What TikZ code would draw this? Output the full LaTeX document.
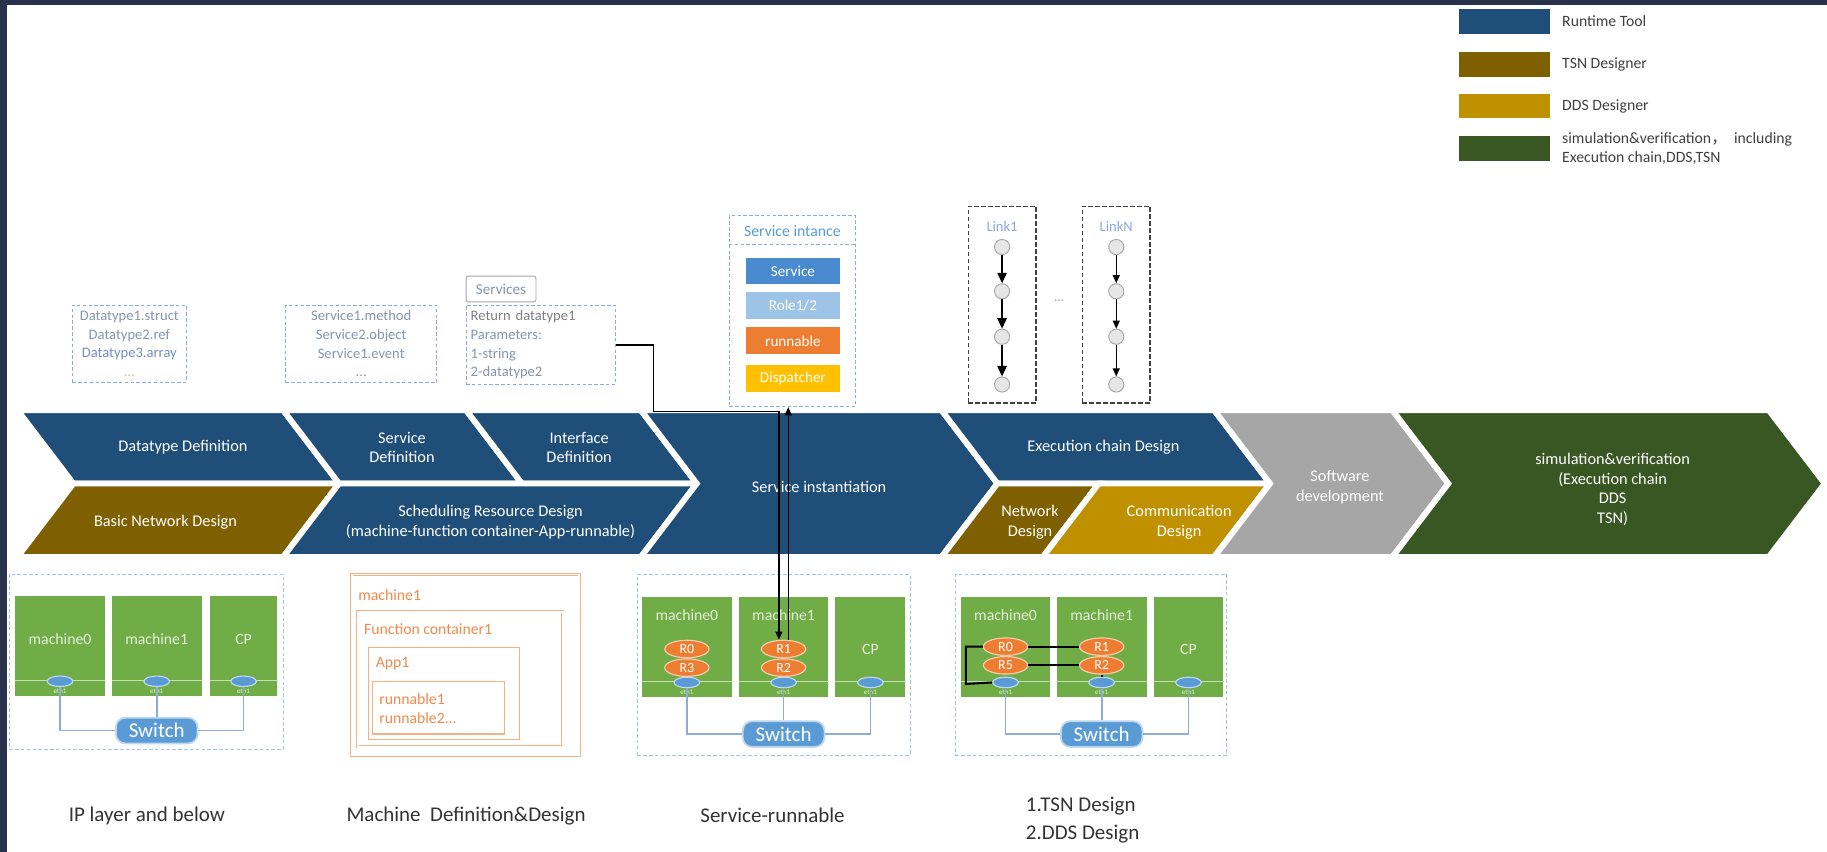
\documentclass[tikz,border=0pt]{standalone}
\usepackage{fontspec}
\setmainfont{Carlito}
\newfontfamily\cjkfont{Noto Sans CJK SC}
\usetikzlibrary{arrows.meta,shapes.geometric}

\definecolor{rtblue}{HTML}{1F4E79}
\definecolor{tsnbrown}{HTML}{7F6000}
\definecolor{ddsgold}{HTML}{BF9000}
\definecolor{simgreen}{HTML}{385723}
\definecolor{swgray}{HTML}{A6A6A6}
\definecolor{framec}{HTML}{28324A}
\definecolor{dashblue}{HTML}{8EA9DB}
\definecolor{txtgray}{HTML}{8497B0}
\definecolor{dtblue}{HTML}{6F8FC7}
\definecolor{mgreen}{HTML}{70AD47}
\definecolor{mtxt}{HTML}{E2F0D9}
\definecolor{stripg}{HTML}{C5E0B4}
\definecolor{portblue}{HTML}{5B9BD5}
\definecolor{portedge}{HTML}{BDD7EE}
\definecolor{wirec}{HTML}{8FAADC}
\definecolor{rorange}{HTML}{ED7D31}
\definecolor{redge}{HTML}{F8CBAD}
\definecolor{lorange}{HTML}{F4B183}
\definecolor{otxt}{HTML}{F08A4B}
\definecolor{svcblue}{HTML}{4A8BD0}
\definecolor{roleblue}{HTML}{9DC3E6}
\definecolor{dispyellow}{HTML}{FFC000}
\definecolor{lgray}{HTML}{A6A6A6}
\definecolor{cgray}{HTML}{E7E6E6}
\definecolor{dgray}{HTML}{404040}
\definecolor{dgraytwo}{HTML}{333333}

\begin{document}
\begin{tikzpicture}[x=1pt,y=-1pt,
  cell/.style={draw=white,line width=5pt,line join=miter},
  celltext/.style={text=white,font=\fontsize{14}{17}\selectfont,align=center},
  tbox/.style={draw=dashblue,dash pattern=on 3pt off 2pt,line width=0.8pt,inner sep=3pt},
  ttext/.style={font=\fontsize{12.5}{16}\selectfont,text=txtgray,align=center},
  tag/.style={draw=lgray,line width=0.8pt,rounded corners=2pt,minimum width=60pt,minimum height=22pt,inner sep=0pt,font=\fontsize{13}{15}\selectfont,text=txtgray},
  blk/.style={minimum width=81pt,minimum height=23pt,inner sep=0pt,text=white,font=\fontsize{13}{15}\selectfont},
  lbox/.style={draw=dgray,dash pattern=on 4pt off 2pt,line width=1.2pt,minimum width=58pt,minimum height=169pt,inner sep=0pt},
  lnode/.style={circle,fill=cgray,draw=lgray,line width=0.8pt,minimum size=13pt,inner sep=0pt},
  larrow/.style={-{Triangle[length=9pt,width=8pt]},line width=1.2pt},
  sarrow/.style={-{Triangle[length=7pt,width=6pt]},line width=1.2pt},
  legbox/.style={minimum width=78pt,minimum height=21pt,inner sep=0pt},
  legtext/.style={text=dgray,font=\fontsize{13.5}{17}\selectfont,anchor=west,align=left},
  bbox/.style={draw=roleblue,dash pattern=on 3pt off 2pt,line width=0.8pt,inner sep=0pt},
  mach/.style={fill=mgreen,minimum height=86pt,inner sep=0pt},
  mtext/.style={text=mtxt,font=\fontsize{13.5}{15}\selectfont},
  strip/.style={draw=stripg,line width=1pt},
  port/.style={ellipse,fill=portblue,draw=portedge,line width=1pt,minimum width=22pt,minimum height=9pt,inner sep=0pt},
  eth/.style={text=mtxt,font=\fontsize{6}{7}\selectfont},
  switch/.style={rounded corners=8pt,fill=portblue,draw=portedge,line width=1.5pt,minimum width=70pt,minimum height=22pt,inner sep=0pt,text=white,font=\fontsize{18}{20}\selectfont},
  wire/.style={draw=wirec,line width=1.5pt},
  rnode/.style={ellipse,fill=rorange,draw=redge,line width=1pt,minimum width=38pt,minimum height=15pt,inner sep=0pt,text=white,font=\fontsize{12}{13}\selectfont},
  bline/.style={draw=black,line width=1.8pt},
  obox/.style={draw=lorange,line width=1pt,inner sep=0pt},
  odbl/.style={draw=lorange,line width=0.6pt,double=white,double distance=1.4pt,inner sep=0pt},
  otext/.style={text=otxt,font=\fontsize{13.5}{16}\selectfont,anchor=west,align=left},
  blabel/.style={text=dgraytwo,font=\fontsize{18}{24}\selectfont}
]
\useasboundingbox (0,0) rectangle (1568,731);
% white page with a dark strip along the top and left edges
\fill[white] (0,0) rectangle (1568,731);
\fill[framec] (0,0) rectangle (1568,4);
\fill[framec] (0,0) rectangle (6,731);

% ---------------- legend ----------------
\node[legbox,fill=rtblue] (lg1) at (1291,18.5) {};
\node[legtext] (lt1) at ([xshift=7pt]lg1.east) {Runtime Tool};
\node[legbox,fill=tsnbrown] (lg2) at (1291,55.5) {};
\node[legtext] (lt2) at ([xshift=7pt]lg2.east) {TSN Designer};
\node[legbox,fill=ddsgold] (lg3) at (1291,91) {};
\node[legtext] (lt3) at ([xshift=7pt]lg3.east) {DDS Designer};
\node[legbox,fill=simgreen] (lg4) at (1291,127.5) {};
\node[legtext] (lt4) at ([xshift=7pt]lg4.east) {simulation\&verification{\cjkfont ，}\ \ including\\Execution chain,DDS,TSN};

% ---------------- process band ----------------
\path[cell,fill=rtblue]   (15,352)--(243,352)--(291,415)--(63,415)--cycle;
\path[cell,fill=tsnbrown] (63,415)--(291,415)--(243,478)--(15,478)--cycle;
\path[cell,fill=rtblue]   (243,352)--(400,352)--(448,415)--(291,415)--cycle;
\path[cell,fill=rtblue]   (400,352)--(550,352)--(598,415)--(448,415)--cycle;
\path[cell,fill=rtblue]   (291,415)--(598,415)--(550,478)--(243,478)--cycle;
\path[cell,fill=rtblue]   (550,352)--(808,352)--(856,415)--(808,478)--(550,478)--(598,415)--cycle;
\path[cell,fill=rtblue]   (808,352)--(1042,352)--(1090,415)--(856,415)--cycle;
\path[cell,fill=tsnbrown] (856,415)--(943,415)--(895,478)--(808,478)--cycle;
\path[cell,fill=ddsgold]  (943,415)--(1090,415)--(1042,478)--(895,478)--cycle;
\path[cell,fill=swgray]   (1042,352)--(1195,352)--(1243,415)--(1195,478)--(1042,478)--(1090,415)--cycle;
\path[cell,fill=simgreen] (1195,352)--(1518,352)--(1566,415)--(1518,478)--(1195,478)--(1243,415)--cycle;

\node[celltext] (cDT) at (157,384) {Datatype Definition};
\node[celltext] (cSD) at (345,384) {Service\\Definition};
\node[celltext] (cID) at (497,384) {Interface\\Definition};
\node[celltext] (cSI) at (703,418) {Service instantiation};
\node[celltext] (cEC) at (947,384) {Execution chain Design};
\node[celltext] (cSW) at (1150,418) {Software\\development};
\node[celltext] (cSV) at (1384,420) {simulation\&verification\\(Execution chain\\DDS\\TSN)};
\node[celltext] (cBN) at (142,448) {Basic Network Design};
\node[celltext] (cSR) at (421,448) {Scheduling Resource Design\\(machine-function container-App-runnable)};
\node[celltext] (cND) at (884,448) {Network\\Design};
\node[celltext] (cCD) at (1012,448) {Communication\\Design};

% ---------------- definition boxes above the band ----------------
\node[tbox,ttext,minimum width=98pt,minimum height=66pt] (dtbox) at (111,295)
  {Datatype1.struct\\Datatype2.ref\\\textcolor{dtblue}{Datatype3.array}\\\textcolor{lorange}{...}};
\node[tbox,ttext,minimum width=130pt,minimum height=66pt] (svbox) at (310,295)
  {Service1.method\\Service2.object\\Service1.event\\...};
\node[tag] (svtag) at (430,248) {Services};
\node[tbox,ttext,align=left,text width=120pt,minimum width=128pt,minimum height=68pt] (ifc) at (464,296)
  {\textcolor{gray}{Return datatype1}\\Parameters:\\1-string\\2-datatype2};

% service instance
\node[tbox,minimum width=108pt,minimum height=164pt,inner sep=0pt] (si) at (680,267) {};
\node[text=portblue,font=\fontsize{13.5}{15}\selectfont] (sihead) at (680,198) {Service intance};
\coordinate (sepy) at (0,210);
\draw[draw=dashblue,dash pattern=on 3pt off 2pt,line width=0.8pt] (si.west |- sepy) -- (si.east |- sepy);
\node[blk,fill=svcblue] (svc) at (680.5,232.5) {Service};
\node[blk,fill=roleblue] (role) at (680.5,262) {Role1/2};
\node[blk,fill=rorange] (run) at (680.5,292.5) {runnable};
\node[blk,fill=dispyellow] (disp) at (680.5,324.5) {Dispatcher};

% execution chains
\node[lbox] (lk1) at (860,261.5) {};
\node[text=dashblue,font=\fontsize{12.5}{14}\selectfont] (lk1h) at (860,194) {Link1};
\node[lnode] (a1) at (860,212) {};
\node[lnode] (a2) at (860,250) {};
\node[lnode] (a3) at (860,289) {};
\node[lnode] (a4) at (860,330) {};
\draw[larrow] (a1) -- (a2);
\draw[larrow] (a2) -- (a3);
\draw[larrow] (a3) -- (a4);
\node[lbox] (lkn) at (958,261.5) {};
\node[text=dashblue,font=\fontsize{12.5}{14}\selectfont] (lknh) at (958,194) {LinkN};
\node[lnode] (b1) at (958,212) {};
\node[lnode] (b2) at (958,250) {};
\node[lnode] (b3) at (958,289) {};
\node[lnode] (b4) at (958,330) {};
\draw[sarrow] (b1) -- (b2);
\draw[sarrow] (b2) -- (b3);
\draw[sarrow] (b3) -- (b4);
\node[text=lgray,font=\fontsize{12}{14}\selectfont] (ldots) at (909,258) {...};

% ---------------- box A: IP layer ----------------
\node[bbox,minimum width=235pt,minimum height=150pt] (boxA) at (125.5,568) {};
\node[mach,minimum width=77pt] (a0m) at (51.5,554.5) {};
\node[mach,minimum width=77pt] (a1m) at (134.5,554.5) {};
\node[mach,minimum width=58pt] (a2m) at (209,554.5) {};
\foreach \m/\t in {a0m/machine0,a1m/machine1,a2m/CP}{
  \node[mtext] (\m t) at ([yshift=6pt]\m.center) {\t};
  \draw[strip] ([yshift=14pt]\m.south west) -- ([yshift=14pt]\m.south east);
  \node[eth] (\m e) at ([yshift=5pt]\m.south) {eth1};
  \node[port] (\m p) at ([yshift=13pt]\m.south) {};
}
\node[switch] (swA) at (134.5,627) {Switch};
\draw[wire] (a0mp.south) |- (swA.west);
\draw[wire] (a1mp.south) -- (swA.north);
\draw[wire] (a2mp.south) |- (swA.east);

% ---------------- box B: machine nesting ----------------
\node[odbl,minimum width=195pt,minimum height=155pt] (mB) at (399.5,570.5) {};
\node[otext] (mBt) at (304,511) {machine1};
\node[odbl,minimum width=176pt,minimum height=116pt] (fcB) at (395,583) {};
\node[otext] (fcBt) at (309,540) {Function container1};
\node[obox,minimum width=130pt,minimum height=79pt] (appB) at (381,595.5) {};
\node[otext] (appBt) at (319,570) {App1};
\node[obox,minimum width=113pt,minimum height=45pt] (rnB) at (376.5,607.5) {};
\node[otext] (rnBt) at (322,608) {runnable1\\runnable2...};

% ---------------- box C: service-runnable ----------------
\node[bbox,minimum width=234pt,minimum height=155pt] (boxC) at (664,570.5) {};
\node[mach,minimum width=77pt] (c0m) at (589.5,555.5) {};
\node[mach,minimum width=77pt] (c1m) at (672.5,555.5) {};
\node[mach,minimum width=60pt] (c2m) at (747,555.5) {};
\node[mtext] (c0mt) at (589.5,528) {machine0};
\node[mtext] (c1mt) at (672.5,528) {machine1};
\node[mtext] (c2mt) at (747,557) {CP};
\foreach \m in {c0m,c1m,c2m}{
  \draw[strip] ([yshift=14pt]\m.south west) -- ([yshift=14pt]\m.south east);
  \node[eth] (\m e) at ([yshift=5pt]\m.south) {eth1};
  \node[port] (\m p) at ([yshift=13pt]\m.south) {};
}
\node[rnode] (cR0) at (589.5,557) {R0};
\node[rnode] (cR3) at (589.5,573) {R3};
\node[rnode] (cR1) at (672.5,557) {R1};
\node[rnode] (cR2) at (672.5,573) {R2};
\node[switch] (swC) at (672.5,630) {Switch};
\draw[wire] (c0mp.south) |- (swC.west);
\draw[wire] (c1mp.south) -- (swC.north);
\draw[wire] (c2mp.south) |- (swC.east);

% interface to runnable, runnable to service instance
\coordinate (bend1) at (561,353);
\draw[sarrow] (ifc.east) -| (bend1) -| ([xshift=-4pt]cR1.north);
\draw[sarrow] ([xshift=4pt]cR1.north) -- ([xshift=4pt]cR1.north |- si.south);

% ---------------- box D: TSN / DDS ----------------
\node[bbox,minimum width=233pt,minimum height=155pt] (boxD) at (936.5,570.5) {};
\node[mach,minimum width=76pt] (d0m) at (863,555.5) {};
\node[mach,minimum width=77pt] (d1m) at (945.5,555.5) {};
\node[mach,minimum width=60pt] (d2m) at (1020,555.5) {};
\node[mtext] (d0mt) at (863,528) {machine0};
\node[mtext] (d1mt) at (945.5,528) {machine1};
\node[mtext] (d2mt) at (1020,557) {CP};
\foreach \m in {d0m,d1m,d2m}{
  \draw[strip] ([yshift=14pt]\m.south west) -- ([yshift=14pt]\m.south east);
  \node[eth] (\m e) at ([yshift=5pt]\m.south) {eth1};
  \node[port] (\m p) at ([yshift=13pt]\m.south) {};
}
\node[rnode] (dR0) at (863,555) {R0};
\node[rnode] (dR5) at (863,571) {R5};
\node[rnode] (dR1) at (945.5,555) {R1};
\node[rnode] (dR2) at (945.5,571) {R2};
\node[switch] (swD) at (945.5,630) {Switch};
\draw[wire] (d0mp.south) |- (swD.west);
\draw[wire] (d1mp.south) -- (swD.north);
\draw[wire] (d2mp.south) |- (swD.east);
\coordinate (dleft) at (829,587);
\draw[bline] (dR0) -- (dR1);
\draw[bline] (dR5) -- (dR2);
\draw[bline] (dR0.west) -| (dleft) -- (d0mp.west);
\draw[bline] (dR2.south) -- (d1mp.north);

% ---------------- captions ----------------
\node[blabel] (capA) at (126,700) {IP layer and below};
\node[blabel] (capB) at (400,700) {Machine\ \ Definition\&Design};
\node[blabel] (capC) at (663,700) {Service-runnable};
\node[blabel,align=left,anchor=west] (capD) at (877,704) {1.TSN Design\\2.DDS Design};
\end{tikzpicture}
\end{document}
